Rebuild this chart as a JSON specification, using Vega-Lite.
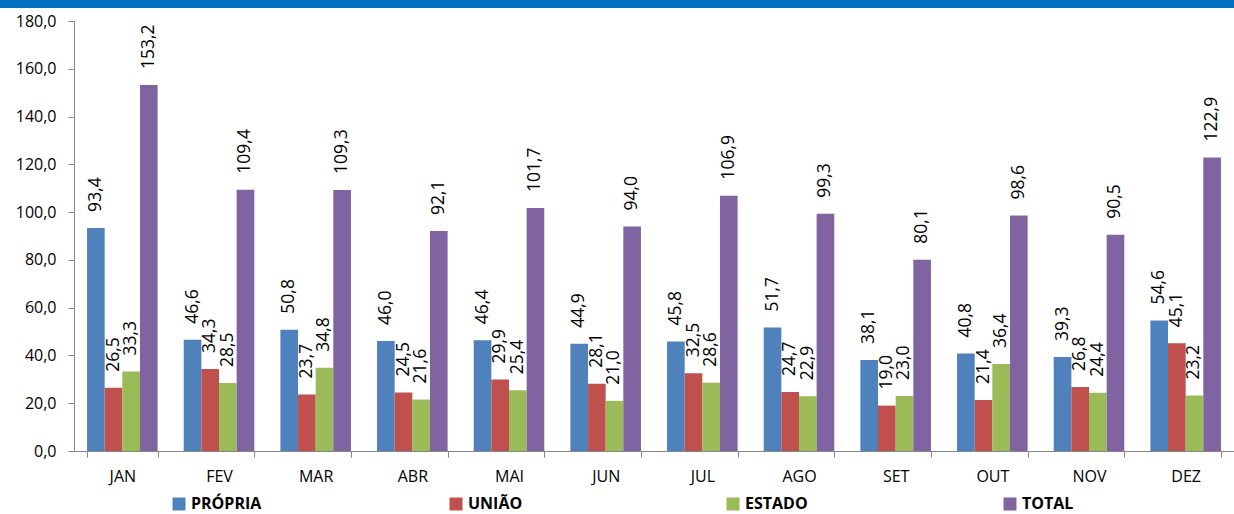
{
  "$schema": "https://vega.github.io/schema/vega-lite/v6.json",
  "width": 1160,
  "height": 430,
  "autosize": {"type": "none"},
  "padding": {"left": 74, "top": 21, "right": 0, "bottom": 63},
  "background": "white",
  "config": {
    "view": {"stroke": null},
    "locale": {"number": {"decimal": ",", "thousands": ".", "grouping": [3], "currency": ["R$", ""]}},
    "axis": {"labelFont": "Open Sans", "labelFontSize": 16, "labelColor": "#000000", "domainColor": "#868686", "tickColor": "#868686", "tickSize": 6, "grid": false, "title": null}
  },
  "data": {
    "values": [
      {"mes": "JAN", "serie": "PRÓPRIA", "valor": 93.4}, {"mes": "JAN", "serie": "UNIÃO", "valor": 26.5}, {"mes": "JAN", "serie": "ESTADO", "valor": 33.3}, {"mes": "JAN", "serie": "TOTAL", "valor": 153.2},
      {"mes": "FEV", "serie": "PRÓPRIA", "valor": 46.6}, {"mes": "FEV", "serie": "UNIÃO", "valor": 34.3}, {"mes": "FEV", "serie": "ESTADO", "valor": 28.5}, {"mes": "FEV", "serie": "TOTAL", "valor": 109.4},
      {"mes": "MAR", "serie": "PRÓPRIA", "valor": 50.8}, {"mes": "MAR", "serie": "UNIÃO", "valor": 23.7}, {"mes": "MAR", "serie": "ESTADO", "valor": 34.8}, {"mes": "MAR", "serie": "TOTAL", "valor": 109.3},
      {"mes": "ABR", "serie": "PRÓPRIA", "valor": 46.0}, {"mes": "ABR", "serie": "UNIÃO", "valor": 24.5}, {"mes": "ABR", "serie": "ESTADO", "valor": 21.6}, {"mes": "ABR", "serie": "TOTAL", "valor": 92.1},
      {"mes": "MAI", "serie": "PRÓPRIA", "valor": 46.4}, {"mes": "MAI", "serie": "UNIÃO", "valor": 29.9}, {"mes": "MAI", "serie": "ESTADO", "valor": 25.4}, {"mes": "MAI", "serie": "TOTAL", "valor": 101.7},
      {"mes": "JUN", "serie": "PRÓPRIA", "valor": 44.9}, {"mes": "JUN", "serie": "UNIÃO", "valor": 28.1}, {"mes": "JUN", "serie": "ESTADO", "valor": 21.0}, {"mes": "JUN", "serie": "TOTAL", "valor": 94.0},
      {"mes": "JUL", "serie": "PRÓPRIA", "valor": 45.8}, {"mes": "JUL", "serie": "UNIÃO", "valor": 32.5}, {"mes": "JUL", "serie": "ESTADO", "valor": 28.6}, {"mes": "JUL", "serie": "TOTAL", "valor": 106.9},
      {"mes": "AGO", "serie": "PRÓPRIA", "valor": 51.7}, {"mes": "AGO", "serie": "UNIÃO", "valor": 24.7}, {"mes": "AGO", "serie": "ESTADO", "valor": 22.9}, {"mes": "AGO", "serie": "TOTAL", "valor": 99.3},
      {"mes": "SET", "serie": "PRÓPRIA", "valor": 38.1}, {"mes": "SET", "serie": "UNIÃO", "valor": 19.0}, {"mes": "SET", "serie": "ESTADO", "valor": 23.0}, {"mes": "SET", "serie": "TOTAL", "valor": 80.1},
      {"mes": "OUT", "serie": "PRÓPRIA", "valor": 40.8}, {"mes": "OUT", "serie": "UNIÃO", "valor": 21.4}, {"mes": "OUT", "serie": "ESTADO", "valor": 36.4}, {"mes": "OUT", "serie": "TOTAL", "valor": 98.6},
      {"mes": "NOV", "serie": "PRÓPRIA", "valor": 39.3}, {"mes": "NOV", "serie": "UNIÃO", "valor": 26.8}, {"mes": "NOV", "serie": "ESTADO", "valor": 24.4}, {"mes": "NOV", "serie": "TOTAL", "valor": 90.5},
      {"mes": "DEZ", "serie": "PRÓPRIA", "valor": 54.6}, {"mes": "DEZ", "serie": "UNIÃO", "valor": 45.1}, {"mes": "DEZ", "serie": "ESTADO", "valor": 23.2}, {"mes": "DEZ", "serie": "TOTAL", "valor": 122.9}
    ]
  },
  "layer": [
    {
      "mark": {"type": "rect", "color": "#0070C0", "clip": false},
      "encoding": {
        "x": {"datum": -0.07, "type": "quantitative", "scale": {"domain": [0, 1], "nice": false, "zero": false}, "axis": null},
        "x2": {"datum": 1},
        "y": {"datum": 185.4, "type": "quantitative"},
        "y2": {"datum": 195}
      }
    },
    {
      "layer": [
        {
          "mark": {"type": "bar"},
          "encoding": {
            "color": {
              "field": "serie", "type": "nominal",
              "sort": ["PRÓPRIA", "UNIÃO", "ESTADO", "TOTAL"],
              "scale": {"domain": ["PRÓPRIA", "UNIÃO", "ESTADO", "TOTAL"], "range": ["#4F81BD", "#C0504D", "#9BBB59", "#8064A2"]},
              "legend": {
                "title": null, "orient": "none", "direction": "horizontal", "columns": 4,
                "legendX": 97, "legendY": 475, "gridAlign": "all", "columnPadding": 186,
                "symbolType": "square", "symbolSize": 169, "symbolStrokeWidth": 0, "symbolOffset": 0,
                "labelFont": "Open Sans", "labelFontSize": 16, "labelFontWeight": "bold", "labelColor": "#000000", "labelOffset": 4
              }
            }
          }
        },
        {
          "mark": {"type": "text", "angle": 270, "align": "left", "baseline": "middle", "dx": 16, "font": "Open Sans", "fontSize": 17.5, "color": "#000000"},
          "encoding": {
            "text": {"field": "valor", "type": "quantitative", "format": ".1f"}
          }
        }
      ],
      "encoding": {
        "x": {
          "field": "mes", "type": "nominal",
          "sort": ["JAN", "FEV", "MAR", "ABR", "MAI", "JUN", "JUL", "AGO", "SET", "OUT", "NOV", "DEZ"],
          "scale": {"paddingInner": 0.27, "paddingOuter": 0.135},
          "axis": {"labelAngle": 0, "tickBand": "extent", "labelPadding": 11, "domainWidth": 1}
        },
        "xOffset": {"field": "serie", "type": "nominal", "sort": ["PRÓPRIA", "UNIÃO", "ESTADO", "TOTAL"], "scale": {"paddingInner": 0, "paddingOuter": 0}},
        "y": {
          "field": "valor", "type": "quantitative",
          "scale": {"domain": [0, 180], "nice": false},
          "axis": {"values": [0, 20, 40, 60, 80, 100, 120, 140, 160, 180], "format": ".1f", "labelPadding": 12}
        }
      }
    }
  ],
  "resolve": {"scale": {"x": "independent"}, "axis": {"x": "independent"}}
}
